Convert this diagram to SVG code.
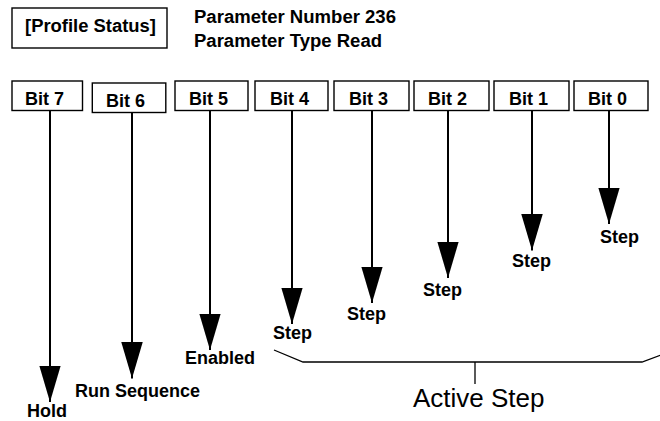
<svg xmlns="http://www.w3.org/2000/svg" width="660" height="421" viewBox="0 0 660 421">
<style>
  .box { fill: #fff; stroke: #000; stroke-width: 1.4; }
  .lbl { font-family: "Liberation Sans", Arial, Helvetica, sans-serif; font-weight: bold; font-size: 18px; fill: #000; }
  .big { font-family: "Liberation Sans", Arial, Helvetica, sans-serif; font-size: 26px; fill: #000; }
  .shaft { stroke: #000; stroke-width: 2; fill: none; }
  .brk { stroke: #000; stroke-width: 1.3; fill: none; }
</style>
<defs>
  <marker id="ah" viewBox="0 -11 37 22" refX="36.5" refY="0" markerWidth="37" markerHeight="22" markerUnits="userSpaceOnUse" orient="auto">
    <path d="M0,-10.75 L36.5,0 L0,10.75 z" fill="#000"/>
  </marker>
</defs>
<rect width="660" height="421" fill="#fff"/>

<g id="title">
  <rect class="box" x="12" y="8" width="155" height="40"/>
  <text class="lbl" x="25" y="31.5" textLength="131" lengthAdjust="spacingAndGlyphs">[Profile Status]</text>
</g>
<g id="param">
  <text class="lbl" x="194" y="22.5" textLength="202" lengthAdjust="spacingAndGlyphs">Parameter Number 236</text>
  <text class="lbl" x="194" y="47" textLength="188" lengthAdjust="spacingAndGlyphs">Parameter Type Read</text>
</g>

<g id="bit7"><rect class="box" x="12" y="81" width="70.5" height="29.5"/><text class="lbl" x="25" y="104.5">Bit 7</text></g>
<g id="bit6"><rect class="box" x="92.3" y="83" width="73.5" height="29.5"/><text class="lbl" x="106" y="106.5">Bit 6</text></g>
<g id="bit5"><rect class="box" x="175" y="81" width="73" height="29.5"/><text class="lbl" x="189" y="104.5">Bit 5</text></g>
<g id="bit4"><rect class="box" x="255" y="81" width="73" height="29.5"/><text class="lbl" x="270" y="104.5">Bit 4</text></g>
<g id="bit3"><rect class="box" x="334" y="81" width="75" height="29.5"/><text class="lbl" x="349" y="104.5">Bit 3</text></g>
<g id="bit2"><rect class="box" x="414" y="81" width="75" height="29.5"/><text class="lbl" x="428" y="104.5">Bit 2</text></g>
<g id="bit1"><rect class="box" x="494" y="81" width="75" height="29.5"/><text class="lbl" x="509" y="104.5">Bit 1</text></g>
<g id="bit0"><rect class="box" x="574" y="81" width="74" height="29.5"/><text class="lbl" x="588" y="104.5">Bit 0</text></g>

<g id="connectors">
  <line class="shaft" x1="50" y1="110.5" x2="50" y2="402" marker-end="url(#ah)"/>
  <line class="shaft" x1="132" y1="112.5" x2="132" y2="378.5" marker-end="url(#ah)"/>
  <line class="shaft" x1="210" y1="110.5" x2="210" y2="350" marker-end="url(#ah)"/>
  <line class="shaft" x1="292" y1="110.5" x2="292" y2="324" marker-end="url(#ah)"/>
  <line class="shaft" x1="372" y1="110.5" x2="372" y2="303" marker-end="url(#ah)"/>
  <line class="shaft" x1="448" y1="110.5" x2="448" y2="278" marker-end="url(#ah)"/>
  <line class="shaft" x1="532" y1="110.5" x2="532" y2="250.5" marker-end="url(#ah)"/>
  <line class="shaft" x1="609" y1="110.5" x2="609" y2="224" marker-end="url(#ah)"/>
  <polyline class="brk" points="274,350 303,362 642,362 661,355"/>
  <line class="brk" x1="475" y1="362" x2="475" y2="384"/>
</g>

<g id="labels">
  <text class="lbl" x="27" y="417">Hold</text>
  <text class="lbl" x="75" y="396.5">Run Sequence</text>
  <text class="lbl" x="185" y="364">Enabled</text>
  <text class="lbl" x="273" y="339">Step</text>
  <text class="lbl" x="347" y="319.5">Step</text>
  <text class="lbl" x="423" y="295.5">Step</text>
  <text class="lbl" x="512" y="267">Step</text>
  <text class="lbl" x="600" y="243">Step</text>
  <text class="big" x="413" y="406.5">Active Step</text>
</g>
</svg>
